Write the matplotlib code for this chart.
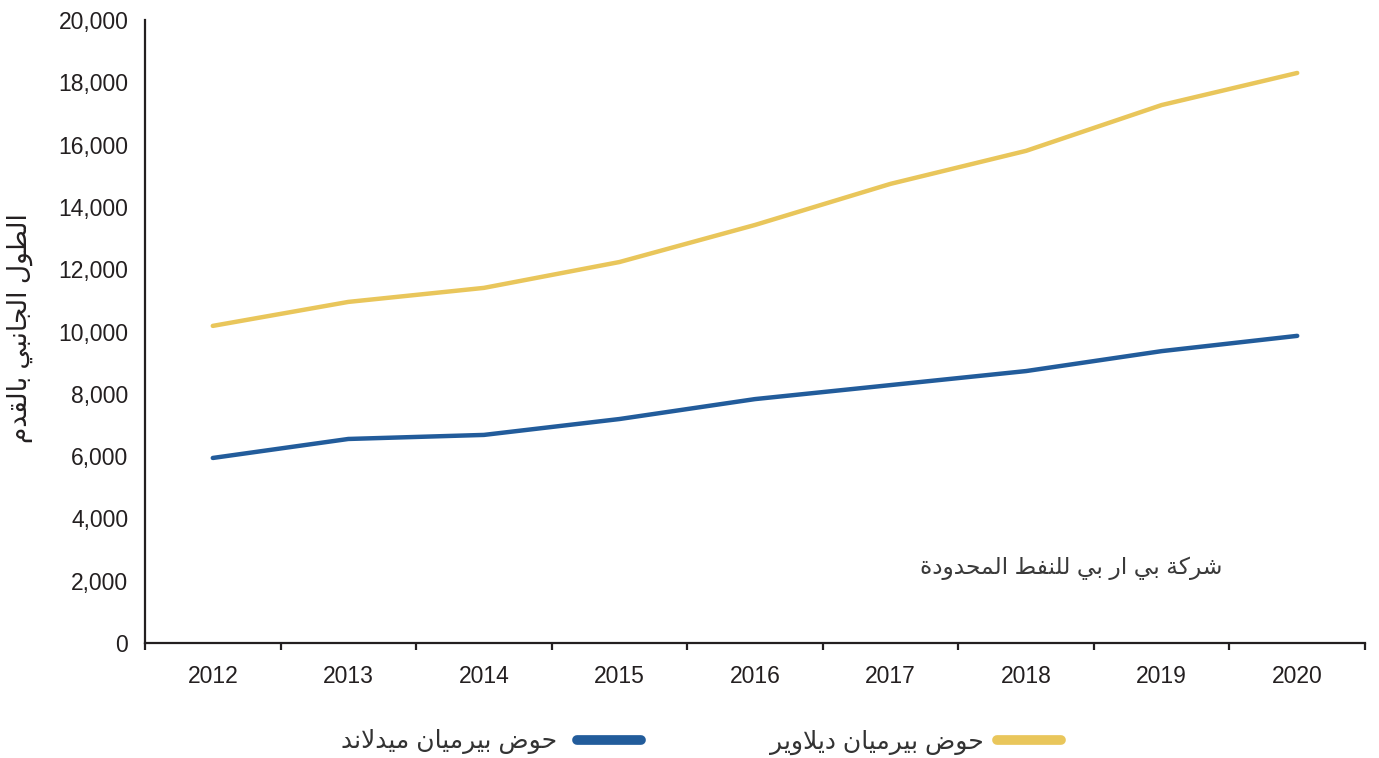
import matplotlib
matplotlib.use("Agg")
import matplotlib.pyplot as plt
from matplotlib.lines import Line2D
from matplotlib.ticker import FuncFormatter, FixedLocator

# ---------------- data ----------------
years = ["2012", "2013", "2014", "2015", "2016", "2017", "2018", "2019", "2020"]
delaware = [10180, 10950, 11400, 12230, 13420, 14740, 15800, 17270, 18300]
midland = [5940, 6550, 6680, 7190, 7830, 8280, 8730, 9370, 9860]
label_delaware = "حوض بيرميان ديلاوير"
label_midland = "حوض بيرميان ميدلاند"
ylabel_text = "الطول الجانبي بالقدم"
source_text = "شركة بي ار بي للنفط المحدودة"

# ---------------- minimal Arabic shaping ----------------
FORMS = {  # isolated, final, initial, medial (None when letter does not join forward)
    'ا': ('\uFE8D', '\uFE8E', None, None),
    'ب': ('\uFE8F', '\uFE90', '\uFE91', '\uFE92'),
    'ة': ('\uFE93', '\uFE94', None, None),
    'ت': ('\uFE95', '\uFE96', '\uFE97', '\uFE98'),
    'ج': ('\uFE9D', '\uFE9E', '\uFE9F', '\uFEA0'),
    'ح': ('\uFEA1', '\uFEA2', '\uFEA3', '\uFEA4'),
    'د': ('\uFEA9', '\uFEAA', None, None),
    'ر': ('\uFEAD', '\uFEAE', None, None),
    'ش': ('\uFEB5', '\uFEB6', '\uFEB7', '\uFEB8'),
    'ض': ('\uFEBD', '\uFEBE', '\uFEBF', '\uFEC0'),
    'ط': ('\uFEC1', '\uFEC2', '\uFEC3', '\uFEC4'),
    'ف': ('\uFED1', '\uFED2', '\uFED3', '\uFED4'),
    'ق': ('\uFED5', '\uFED6', '\uFED7', '\uFED8'),
    'ك': ('\uFED9', '\uFEDA', '\uFEDB', '\uFEDC'),
    'ل': ('\uFEDD', '\uFEDE', '\uFEDF', '\uFEE0'),
    'م': ('\uFEE1', '\uFEE2', '\uFEE3', '\uFEE4'),
    'ن': ('\uFEE5', '\uFEE6', '\uFEE7', '\uFEE8'),
    'و': ('\uFEED', '\uFEEE', None, None),
    'ي': ('\uFEF1', '\uFEF2', '\uFEF3', '\uFEF4'),
}


def dual(c):
    return c in FORMS and FORMS[c][2] is not None


def shape(text):
    # lam-alef ligature handled as a right-joining unit
    chars = []
    i = 0
    while i < len(text):
        if text[i] == 'ل' and i + 1 < len(text) and text[i + 1] == 'ا':
            chars.append('LA')
            i += 2
        else:
            chars.append(text[i])
            i += 1
    out = []
    for k, c in enumerate(chars):
        prev = chars[k - 1] if k > 0 else None
        nxt = chars[k + 1] if k + 1 < len(chars) else None
        join_prev = prev is not None and (prev in FORMS and dual(prev))
        if c == 'LA':
            out.append('\uFEFC' if join_prev else '\uFEFB')
            continue
        if c not in FORMS:
            out.append(c)
            continue
        join_next = dual(c) and nxt is not None and (nxt in FORMS or nxt == 'LA')
        iso, fin, ini, med = FORMS[c]
        if join_prev and join_next:
            out.append(med)
        elif join_prev:
            out.append(fin)
        elif join_next:
            out.append(ini)
        else:
            out.append(iso)
    return ''.join(out)[::-1]


# ---------------- style ----------------
W, H = 1379, 758
TXT = '#231F20'
YELLOW = '#E9C65B'
BLUE = '#225C9B'
plt.rcParams['font.family'] = ['Liberation Sans', 'DejaVu Sans']

fig = plt.figure(figsize=(W / 100, H / 100), dpi=100)
ax = fig.add_axes([145 / W, 1 - 643 / H, 1220 / W, 623 / H])

x = list(range(len(years)))
ax.plot(x, delaware, color=YELLOW, lw=3.2, solid_capstyle='round', label=shape(label_delaware))
ax.plot(x, midland, color=BLUE, lw=3.2, solid_capstyle='round', label=shape(label_midland))

ax.set_xlim(-0.5, len(years) - 0.5)
ax.set_ylim(0, 20000)

for s in ['top', 'right']:
    ax.spines[s].set_visible(False)
for s in ['left', 'bottom']:
    ax.spines[s].set_linewidth(1.6)
    ax.spines[s].set_color(TXT)

ax.yaxis.set_major_locator(FixedLocator(range(0, 20001, 2000)))
ax.yaxis.set_major_formatter(FuncFormatter(lambda v, p: f"{int(v):,}"))
ax.tick_params(axis='y', length=0, pad=12, labelsize=16.5, labelcolor=TXT)

ax.xaxis.set_major_locator(FixedLocator([i - 0.5 for i in range(len(years) + 1)]))
ax.xaxis.set_minor_locator(FixedLocator(x))
ax.set_xticklabels([], minor=False)
ax.set_xticklabels(years, minor=True)
ax.tick_params(axis='x', which='major', length=5, width=1.6, color=TXT, direction='out')
ax.tick_params(axis='x', which='minor', length=0, pad=16, labelsize=16.5, labelcolor=TXT)

fig.text(20 / W, 1 - 328 / H, shape(ylabel_text), rotation=90, ha='center', va='center',
         fontsize=19, color=TXT)
fig.text(1222 / W, 1 - 568 / H, shape(source_text), ha='right', va='center',
         fontsize=16.8, color='#3a3a3a')

# legends (right-to-left: handle after text)
h_y = Line2D([], [], color=YELLOW, lw=7, solid_capstyle='round')
h_b = Line2D([], [], color=BLUE, lw=7, solid_capstyle='round')
common = dict(loc='center right', frameon=False, markerfirst=False,
              handlelength=2.55, borderpad=0, borderaxespad=0,
              fontsize=18, labelcolor='#333333')
leg1 = fig.legend([h_y], [shape(label_delaware)], bbox_to_anchor=(1061 / W, 1 - 742 / H),
                  handletextpad=0.55, **common)
leg2 = fig.legend([h_b], [shape(label_midland)], bbox_to_anchor=(641 / W, 1 - 742 / H),
                  handletextpad=0.8, **common)

fig.savefig('out.png', dpi=100, facecolor='white')
